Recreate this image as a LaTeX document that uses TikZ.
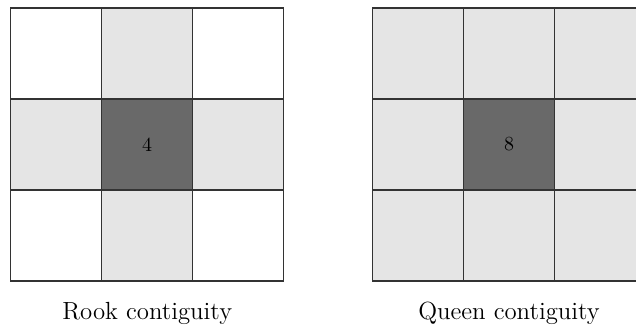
\documentclass[tikz,border=0pt]{standalone}
\usetikzlibrary{positioning}

\begin{document}
\begin{tikzpicture}
[x=0.5pt,y=-0.5pt,
 every node/.style={draw=black!80,line width=0.65pt,minimum size=45.5pt,inner sep=0mm,outer sep=0mm,font=\normalsize},
 own/.style={fill=black!59},
 nbr/.style={fill=gray!20},
 off/.style={fill=white},
 caption/.style={draw=none,minimum size=0pt,font=\fontsize{12.4}{14}\selectfont}]
\useasboundingbox (0,0) rectangle (636,333);
% rook
\node[off] (RnW) at (56.2,53.5)                  {};
\node[nbr] (Rn)  [on grid,right=45.5pt of RnW]   {};
\node[off] (RnE) [on grid,right=45.5pt of Rn]    {};
\node[nbr] (Rw)  [on grid,below=45.5pt of RnW]   {};
\node[own] (Rc)  [on grid,right=45.5pt of Rw]    {4};
\node[nbr] (Re)  [on grid,right=45.5pt of Rc]    {};
\node[off] (RsW) [on grid,below=45.5pt of Rw]    {};
\node[nbr] (Rs)  [on grid,right=45.5pt of RsW]   {};
\node[off] (RsE) [on grid,right=45.5pt of Rs]    {};
\node[caption] (Rlab) at (147.2,313)             {Rook contiguity};
% queen
\node[nbr] (QnW) at (418,53.5)                   {};
\node[nbr] (Qn)  [on grid,right=45.5pt of QnW]   {};
\node[nbr] (QnE) [on grid,right=45.5pt of Qn]    {};
\node[nbr] (Qw)  [on grid,below=45.5pt of QnW]   {};
\node[own] (Qc)  [on grid,right=45.5pt of Qw]    {8};
\node[nbr] (Qe)  [on grid,right=45.5pt of Qc]    {};
\node[nbr] (QsW) [on grid,below=45.5pt of Qw]    {};
\node[nbr] (Qs)  [on grid,right=45.5pt of QsW]   {};
\node[nbr] (QsE) [on grid,right=45.5pt of Qs]    {};
\node[caption] (Qlab) at (509,313)               {Queen contiguity};
\end{tikzpicture}
\end{document}
